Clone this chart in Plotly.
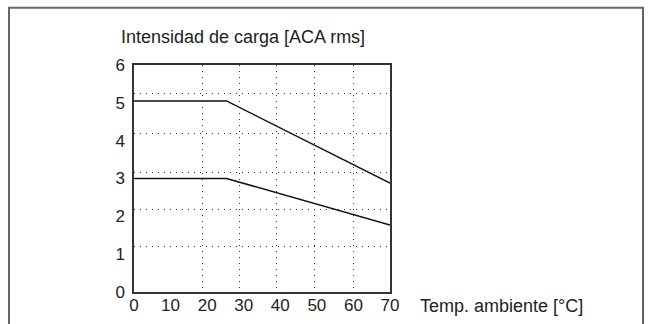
import plotly.graph_objects as go

# Data
temp_upper = [0, 25.3, 70]
curr_upper = [5.05, 5.05, 2.88]
temp_lower = [0, 25.3, 70]
curr_lower = [3.0, 3.0, 1.77]

x_ticks = [0, 10, 20, 30, 40, 50, 60, 70]
y_ticks = [0, 1, 2, 3, 4, 5, 6]
# dotted grid positions as drawn in the reference (slightly offset from ticks)
x_grid = [18.7, 28.9, 38.9, 49.4, 60.1]
y_grid = [1.19, 2.19, 3.17, 4.19, 5.24]

y_title = "Intensidad de carga [ACA rms]"
x_title = "Temp. ambiente [°C]"

FONT = "Liberation Sans, Arial, Helvetica, sans-serif"
TXT = "#222222"

fig = go.Figure()
# invisible trace to anchor grid overlay axes
fig.add_trace(go.Scatter(x=[None], y=[None], xaxis="x2", yaxis="y2",
                         showlegend=False, hoverinfo="skip"))
fig.add_trace(go.Scatter(x=temp_upper, y=curr_upper, mode="lines",
                         line=dict(color="#111111", width=1.5), showlegend=False))
fig.add_trace(go.Scatter(x=temp_lower, y=curr_lower, mode="lines",
                         line=dict(color="#111111", width=1.5), showlegend=False))

fig.update_layout(
    width=651, height=324,
    margin=dict(l=134, r=261, t=65, b=32, autoexpand=False),
    paper_bgcolor="white", plot_bgcolor="white",
    font=dict(family=FONT, color=TXT, size=17),
    xaxis=dict(range=[0, 70], tickvals=x_ticks, showgrid=False, zeroline=False,
               showline=True, mirror=True, linecolor="#333333", linewidth=1.5,
               automargin=False,
               ticks="", ticklabelstandoff=-3, tickfont=dict(size=17, color=TXT)),
    yaxis=dict(range=[0, 6], tickvals=y_ticks, showgrid=False, zeroline=False,
               showline=True, mirror=True, linecolor="#333333", linewidth=1.5,
               automargin=False,
               ticks="", ticklabelstandoff=4, tickfont=dict(size=17, color=TXT)),
    xaxis2=dict(overlaying="x", range=[0, 70], tickvals=x_grid, showgrid=True,
                gridcolor="#333333", gridwidth=1, griddash="1px,5px", automargin=False,
                showticklabels=False, zeroline=False, showline=False, ticks=""),
    yaxis2=dict(overlaying="y", range=[0, 6], tickvals=y_grid, showgrid=True,
                gridcolor="#333333", gridwidth=1, griddash="1px,5px", automargin=False,
                showticklabels=False, zeroline=False, showline=False, ticks="",
                side="right"),
)

fig.add_annotation(text=y_title, xref="paper", yref="paper",
                   x=(118.5 - 134) / 256, y=(291.7 - 37) / 227,
                   xanchor="left", yanchor="middle", showarrow=False,
                   font=dict(size=18, color=TXT, family=FONT))
fig.add_annotation(text=x_title, xref="paper", yref="paper",
                   x=(417.5 - 134) / 256, y=(291.7 - 306) / 227,
                   xanchor="left", yanchor="middle", showarrow=False,
                   font=dict(size=18, color=TXT, family=FONT))

# outer frame (left, top, right edges)
fl, fr, ft, fb = (9 - 134) / 256, (643 - 134) / 256, (291.7 - 7.5) / 227, (291.7 - 340) / 227
fig.add_shape(type="path", xref="paper", yref="paper",
              path=f"M {fl} {fb} L {fl} {ft} L {fr} {ft} L {fr} {fb}",
              line=dict(color="#666666", width=2))

fig.write_html("out.html", config={"displayModeBar": False},
               post_script="document.body.style.margin='0';document.body.style.overflow='hidden';")
